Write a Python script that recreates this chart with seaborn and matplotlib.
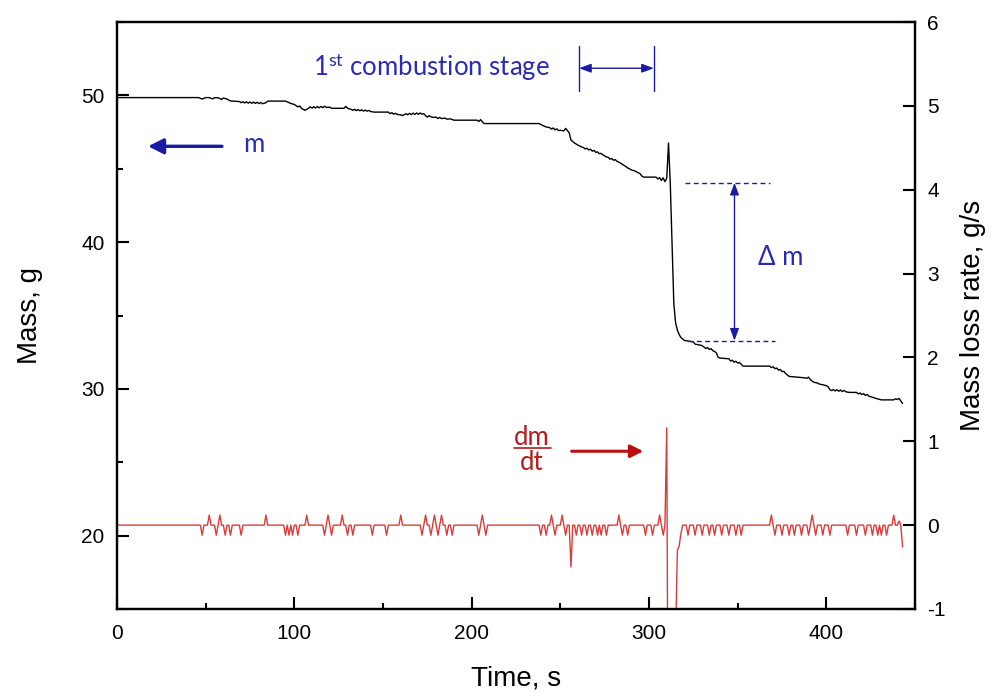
import numpy as np
import pandas as pd
import matplotlib
matplotlib.use("Agg")
import matplotlib.pyplot as plt
import seaborn as sns
from matplotlib.ticker import MultipleLocator

# ---------------- data ----------------
mass_time = [0, 46, 48, 50, 52, 54, 55, 57, 59, 60, 62, 64, 69, 70, 71, 72, 73, 74, 75, 76, 77, 78, 79, 80,
             81, 82, 84, 85, 95, 97, 98, 100, 101, 102, 103, 104, 105, 106, 107, 108, 109, 110, 111, 112,
             113, 114, 115, 116, 117, 118, 120, 121, 128, 129, 130, 132, 133, 134, 135, 136, 137, 138, 139,
             140, 141, 142, 143, 145, 153, 154, 155, 156, 157, 158, 160, 161, 163, 164, 165, 166, 167, 168,
             169, 170, 171, 172, 173, 174, 175, 176, 177, 178, 180, 181, 182, 183, 185, 186, 188, 190, 203,
             204, 205, 206, 207, 238, 240, 242, 244, 245, 246, 247, 248, 249, 250, 252, 253, 254, 255, 256,
             257, 258, 259, 260, 261, 262, 263, 264, 265, 266, 267, 268, 269, 270, 271, 272, 273, 274, 276,
             277, 278, 279, 280, 281, 282, 283, 284, 285, 286, 287, 288, 289, 290, 292, 294, 295, 296, 297,
             304, 305, 306, 307, 308, 309, 310, 311, 312, 313, 314, 315, 316, 317, 318, 320, 325, 326, 330,
             331, 332, 333, 334, 335, 336, 337, 338, 339, 340, 345, 346, 347, 348, 349, 350, 351, 352, 353,
             368, 369, 370, 371, 372, 373, 374, 375, 376, 377, 378, 379, 388, 389, 390, 391, 393, 395, 396,
             398, 400, 401, 402, 403, 404, 405, 406, 407, 408, 409, 410, 411, 413, 417, 418, 419, 420, 421,
             422, 423, 424, 425, 428, 431, 438, 439, 440, 441, 442, 443]
mass_g = [49.85, 49.85, 49.75, 49.85, 49.85, 49.76, 49.84, 49.84, 49.72, 49.82, 49.75, 49.62, 49.58, 49.50,
          49.57, 49.48, 49.56, 49.47, 49.55, 49.46, 49.54, 49.45, 49.53, 49.44, 49.52, 49.43, 49.50, 49.61,
          49.61, 49.50, 49.45, 49.38, 49.30, 49.22, 49.28, 49.12, 49.05, 48.98, 49.05, 49.12, 49.22, 49.13,
          49.23, 49.14, 49.24, 49.15, 49.25, 49.16, 49.26, 49.18, 49.20, 49.12, 49.12, 49.25, 49.12, 49.05,
          48.98, 49.05, 48.96, 49.03, 48.95, 49.02, 48.93, 49.00, 48.92, 48.98, 48.90, 48.86, 48.86, 48.76,
          48.82, 48.72, 48.78, 48.70, 48.68, 48.62, 48.75, 48.68, 48.78, 48.69, 48.79, 48.70, 48.80, 48.71,
          48.80, 48.72, 48.75, 48.62, 48.52, 48.62, 48.55, 48.50, 48.52, 48.42, 48.50, 48.42, 48.45, 48.38,
          48.40, 48.31, 48.31, 48.22, 48.35, 48.20, 48.08, 48.08, 47.95, 47.85, 47.80, 47.70, 47.78, 47.65,
          47.72, 47.60, 47.62, 47.58, 47.75, 47.60, 47.45, 46.95, 46.85, 46.75, 46.68, 46.60, 46.55, 46.48,
          46.45, 46.35, 46.40, 46.28, 46.33, 46.20, 46.25, 46.12, 46.15, 46.02, 46.05, 45.95, 45.80, 45.78,
          45.65, 45.70, 45.58, 45.62, 45.50, 45.45, 45.38, 45.30, 45.22, 45.15, 45.05, 45.00, 44.92, 44.85,
          44.72, 44.66, 44.50, 44.43, 44.43, 44.30, 44.40, 44.20, 44.38, 44.12, 44.35, 46.75, 44.00, 40.00,
          35.80, 34.50, 34.00, 33.70, 33.50, 33.30, 33.20, 33.05, 32.95, 32.85, 32.75, 32.82, 32.68, 32.74,
          32.60, 32.55, 32.45, 32.15, 32.10, 32.05, 31.90, 31.95, 31.82, 31.88, 31.76, 31.80, 31.68, 31.55,
          31.55, 31.45, 31.50, 31.38, 31.42, 31.28, 31.32, 31.18, 31.20, 31.05, 30.95, 30.85, 30.75, 30.72,
          30.80, 30.62, 30.45, 30.40, 30.33, 30.28, 30.22, 30.15, 29.95, 29.88, 29.96, 29.86, 29.94, 29.84,
          29.92, 29.82, 29.90, 29.80, 29.76, 29.76, 29.66, 29.72, 29.62, 29.68, 29.56, 29.62, 29.50, 29.47,
          29.35, 29.25, 29.25, 29.32, 29.28, 29.35, 29.18, 29.00]

# mass-loss rate: 1-s samples, zero except at these readings
rate_event_time = [48, 52, 56, 58, 61, 64, 70, 84, 95, 97, 99, 102, 107, 117, 119, 121, 127, 130, 133,
                   144, 152, 160, 172, 174, 177, 179, 181, 183, 186, 189, 204, 206, 208, 239, 242, 245,
                   247, 251, 253, 256, 259, 262, 265, 268, 271, 273, 276, 283, 285, 288, 298, 302, 306,
                   308, 310, 311, 312, 313, 314, 315, 316, 317, 318, 322, 326, 330, 334, 337, 341, 345,
                   349, 352, 369, 371, 375, 379, 382, 386, 390, 392, 394, 398, 402, 412, 417, 422, 426,
                   429, 431, 434, 438, 441, 443]
rate_event_value = [-0.12, 0.12, -0.12, 0.12, -0.12, -0.12, -0.12, 0.12, -0.12, -0.12, -0.12, -0.12,
                    0.12, -0.12, 0.12, -0.12, 0.12, -0.12, -0.12, -0.12, -0.12, 0.12, -0.12, 0.12,
                    -0.12, 0.12, -0.12, 0.12, -0.12, -0.12, -0.12, 0.12, -0.12, -0.12, -0.12, 0.12,
                    -0.12, 0.12, -0.12, -0.50, -0.12, -0.12, -0.12, -0.12, -0.12, -0.12, -0.12, 0.12,
                    -0.12, -0.12, -0.12, -0.12, 0.12, -0.12, 1.16, -4.0, -4.0, -4.0, -3.0, -1.3, -0.30,
                    -0.25, -0.10, -0.12, -0.12, -0.12, -0.12, -0.12, -0.12, -0.12, -0.12, -0.12, 0.12,
                    -0.12, -0.12, -0.12, -0.12, -0.12, -0.12, 0.12, -0.12, -0.12, -0.12, -0.12, -0.12,
                    -0.12, -0.12, -0.12, -0.12, -0.12, 0.12, 0.05, -0.26]
rate_end_time = 443

x_ticks = [0, 100, 200, 300, 400]
mass_ticks = [20, 30, 40, 50]
rate_ticks = [-1, 0, 1, 2, 3, 4, 5, 6]

# ---------------- style ----------------
sns.set_style("ticks")
plt.rcParams['font.family'] = ['Liberation Sans', 'DejaVu Sans']
plt.rcParams['axes.unicode_minus'] = False
plt.rcParams['mathtext.fontset'] = 'custom'
plt.rcParams['mathtext.rm'] = 'Lato'
plt.rcParams['mathtext.it'] = 'Lato:italic'
plt.rcParams['mathtext.bf'] = 'Lato:bold'

BLUE_TXT = '#2a2ab4'
BLUE_ARR = '#1a1aa6'
RED_TXT = '#b31c1c'
RED_LINE = '#dc3b3b'
ANN_FONT = ['Lato', 'DejaVu Sans']

fig = plt.figure(figsize=(9.93, 6.96), dpi=100)
ax = fig.add_axes([117 / 993, 1 - 609 / 696, (915 - 117) / 993, (609 - 22) / 696])
ax2 = ax.twinx()

mass_df = pd.DataFrame({'Time': mass_time, 'Mass': mass_g})
sns.lineplot(data=mass_df, x='Time', y='Mass', ax=ax, color='black', lw=1.0,
             estimator=None, sort=False, legend=False)

rate_t = np.arange(0, rate_end_time + 1)
rate_v = np.zeros(len(rate_t))
rate_v[np.array(rate_event_time)] = rate_event_value
rate_df = pd.DataFrame({'Time': rate_t, 'Rate': rate_v})
sns.lineplot(data=rate_df, x='Time', y='Rate', ax=ax2, color=RED_LINE, lw=1.0,
             estimator=None, sort=False, legend=False)

ax.set_xlim(0, 450)
ax.set_ylim(15, 55)
ax2.set_ylim(-1, 6)
ax.set_xticks(x_ticks)
ax.xaxis.set_minor_locator(MultipleLocator(50))
ax.set_yticks(mass_ticks)
ax.yaxis.set_minor_locator(MultipleLocator(5))
ax2.set_yticks(rate_ticks)

for a in (ax, ax2):
    for s in a.spines.values():
        s.set_linewidth(1.6)
        s.set_color('black')
        s.set_visible(True)
ax.tick_params(axis='both', which='major', direction='in', length=8.5, width=1.5,
               labelsize=15, colors='black', labelcolor='black')
ax.tick_params(axis='both', which='minor', direction='in', length=4.5, width=1.5, colors='black')
ax.tick_params(axis='x', pad=11)
ax.tick_params(axis='y', pad=9)
ax2.tick_params(axis='y', which='major', direction='in', length=8.5, width=1.5,
                labelsize=15, pad=9, colors='black', labelcolor='black')

ax.set_xlabel('Time, s', fontsize=20, color='black')
ax.set_ylabel('Mass, g', fontsize=20, color='black')
ax2.set_ylabel('Mass loss rate, g/s', fontsize=20, color='black')
ax2.set_xlabel('')
ax.xaxis.set_label_coords(0.5, -0.097)
ax.yaxis.set_label_coords(-0.093, 0.5)
ax2.yaxis.set_label_coords(1.056, 0.5)

# ---------------- annotations (data coords of left axis) ----------------
ax.text(110.5, 51.3, r'1$^{\rm st}$ combustion stage', fontsize=18.5, color=BLUE_TXT,
        family=ANN_FONT, ha='left', va='baseline')
for xb in (260.6, 302.7):
    ax.plot([xb, xb], [50.27, 53.36], color=BLUE_ARR, lw=1.0)
ax.annotate('', xy=(302.7, 51.85), xytext=(260.6, 51.85),
            arrowprops=dict(arrowstyle='<|-|>,head_length=0.4,head_width=0.15', color=BLUE_ARR,
                            lw=1.0, shrinkA=0, shrinkB=0, mutation_scale=18))

ax.annotate('', xy=(17.5, 46.53), xytext=(59.2, 46.53),
            arrowprops=dict(arrowstyle='-|>,head_length=0.4,head_width=0.2', color=BLUE_ARR,
                            lw=2.4, shrinkA=0, shrinkB=0, mutation_scale=23))
ax.text(71.1, 46.16, 'm', fontsize=18.5, color=BLUE_TXT, family=ANN_FONT, ha='left', va='baseline')

ax.plot([320.4, 368.3], [44.04, 44.04], color=BLUE_ARR, lw=1.0, ls=(0, (3.5, 2.5)))
ax.plot([322.0, 371.0], [33.29, 33.29], color=BLUE_ARR, lw=1.0, ls=(0, (3.5, 2.5)))
ax.annotate('', xy=(348.2, 44.04), xytext=(348.2, 33.29),
            arrowprops=dict(arrowstyle='<|-|>,head_length=0.4,head_width=0.15', color=BLUE_ARR,
                            lw=1.0, shrinkA=0, shrinkB=0, mutation_scale=18))
ax.text(361.5, 38.45, 'Δ m', fontsize=18.5, color=BLUE_TXT, family=ANN_FONT, ha='left', va='baseline')

ax.text(234.1, 25.85, 'dm\ndt', fontsize=18.5, color=RED_TXT, family=ANN_FONT, ha='center',
        va='center', linespacing=1.02, multialignment='center')
ax.plot([223.9, 244.8], [25.96, 25.96], color=RED_TXT, lw=1.2)
ax.annotate('', xy=(296.8, 25.75), xytext=(256.4, 25.75),
            arrowprops=dict(arrowstyle='-|>,head_length=0.4,head_width=0.2', color='#b80f0f',
                            lw=2.2, shrinkA=0, shrinkB=0, mutation_scale=19))

fig.savefig('out.png', dpi=100)
